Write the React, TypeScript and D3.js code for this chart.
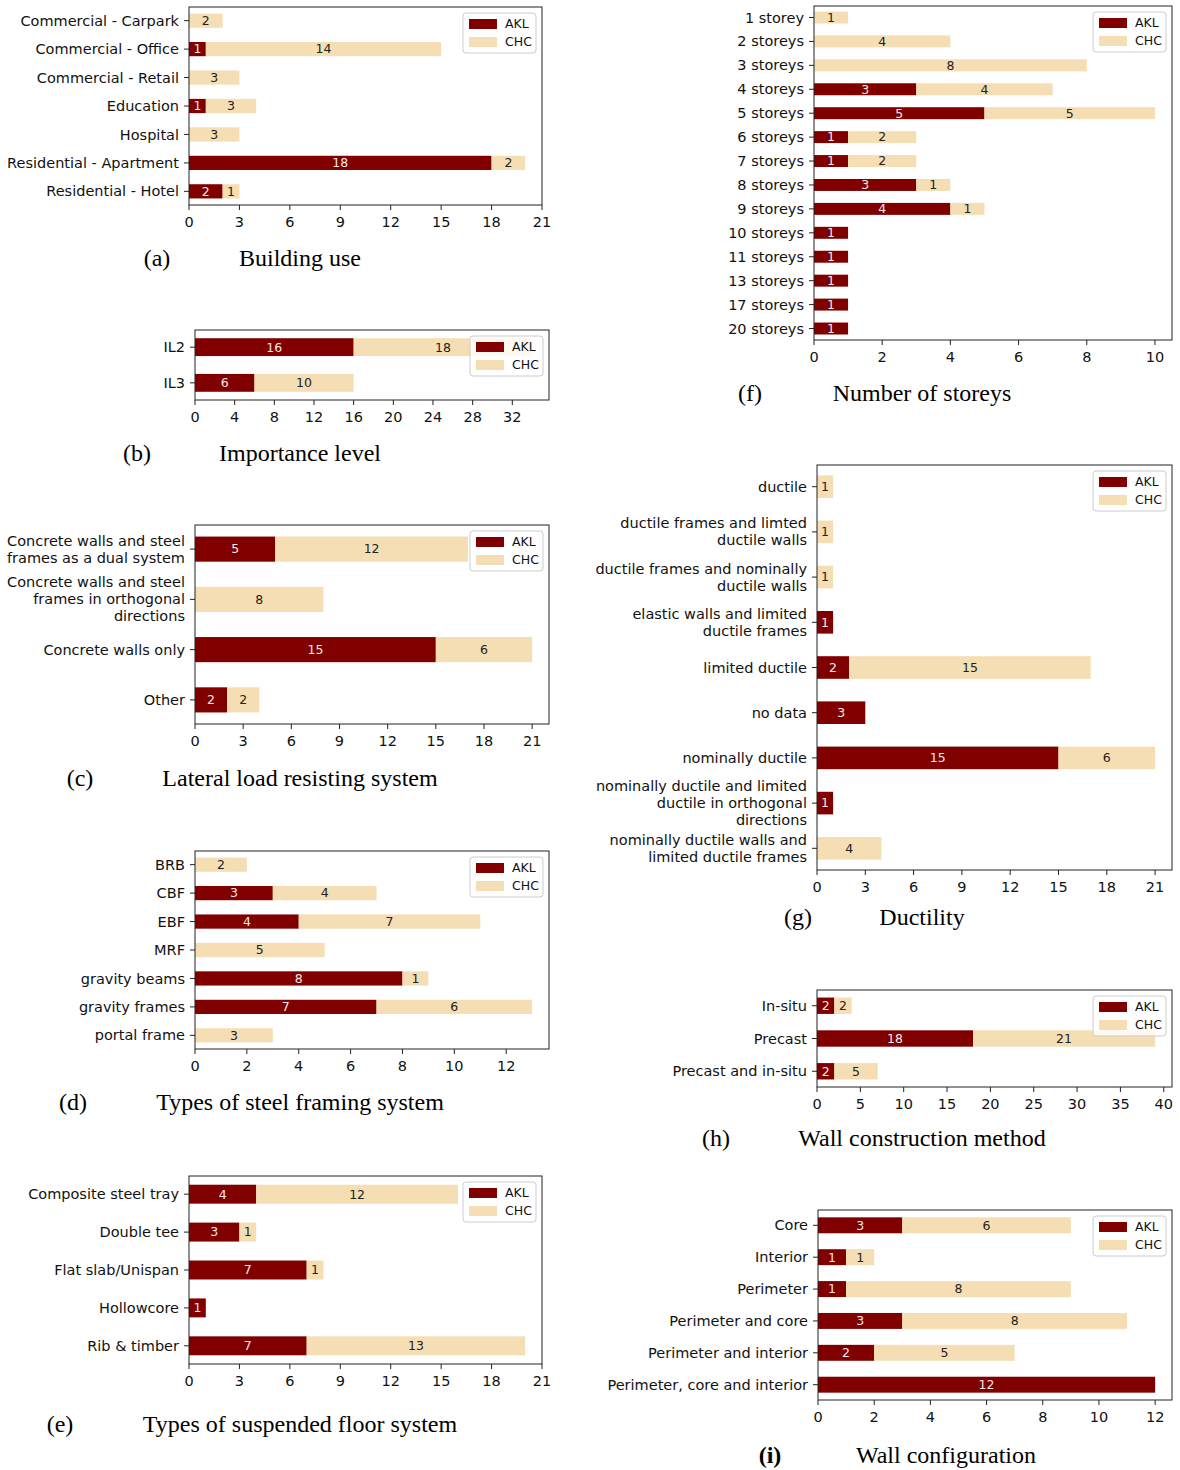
import React from 'react';
import * as d3 from 'd3';

const AKL_COLOR = '#800000';
const CHC_COLOR = '#f5deb3';
const SERIES = ['AKL', 'CHC'];

// (a) Building use
const useCats = ['Commercial - Carpark', 'Commercial - Office', 'Commercial - Retail', 'Education', 'Hospital', 'Residential - Apartment', 'Residential - Hotel'];
const useAkl = [0, 1, 0, 1, 0, 18, 2];
const useChc = [2, 14, 3, 3, 3, 2, 1];
const useTicks = [0, 3, 6, 9, 12, 15, 18, 21];

// (b) Importance level
const ilCats = ['IL2', 'IL3'];
const ilAkl = [16, 6];
const ilChc = [18, 10];
const ilTicks = [0, 4, 8, 12, 16, 20, 24, 28, 32];

// (c) Lateral load resisting system
const llrsCats = ['Concrete walls and steel\nframes as a dual system', 'Concrete walls and steel\nframes in orthogonal\ndirections', 'Concrete walls only', 'Other'];
const llrsAkl = [5, 0, 15, 2];
const llrsChc = [12, 8, 6, 2];
const llrsTicks = [0, 3, 6, 9, 12, 15, 18, 21];

// (d) Types of steel framing system
const steelCats = ['BRB', 'CBF', 'EBF', 'MRF', 'gravity beams', 'gravity frames', 'portal frame'];
const steelAkl = [0, 3, 4, 0, 8, 7, 0];
const steelChc = [2, 4, 7, 5, 1, 6, 3];
const steelTicks = [0, 2, 4, 6, 8, 10, 12];

// (e) Types of suspended floor system
const floorCats = ['Composite steel tray', 'Double tee', 'Flat slab/Unispan', 'Hollowcore', 'Rib & timber'];
const floorAkl = [4, 3, 7, 1, 7];
const floorChc = [12, 1, 1, 0, 13];
const floorTicks = [0, 3, 6, 9, 12, 15, 18, 21];

// (f) Number of storeys
const storeyCats = ['1 storey', '2 storeys', '3 storeys', '4 storeys', '5 storeys', '6 storeys', '7 storeys', '8 storeys', '9 storeys', '10 storeys', '11 storeys', '13 storeys', '17 storeys', '20 storeys'];
const storeyAkl = [0, 0, 0, 3, 5, 1, 1, 3, 4, 1, 1, 1, 1, 1];
const storeyChc = [1, 4, 8, 4, 5, 2, 2, 1, 1, 0, 0, 0, 0, 0];
const storeyTicks = [0, 2, 4, 6, 8, 10];

// (g) Ductility
const ductCats = ['ductile', 'ductile frames and limted\nductile walls', 'ductile frames and nominally\nductile walls', 'elastic walls and limited\nductile frames', 'limited ductile', 'no data', 'nominally ductile', 'nominally ductile and limited\nductile in orthogonal\ndirections', 'nominally ductile walls and\nlimited ductile frames'];
const ductAkl = [0, 0, 0, 1, 2, 3, 15, 1, 0];
const ductChc = [1, 1, 1, 0, 15, 0, 6, 0, 4];
const ductTicks = [0, 3, 6, 9, 12, 15, 18, 21];

// (h) Wall construction method
const wallCats = ['In-situ', 'Precast', 'Precast and in-situ'];
const wallAkl = [2, 18, 2];
const wallChc = [2, 21, 5];
const wallTicks = [0, 5, 10, 15, 20, 25, 30, 35, 40];

// (i) Wall configuration
const confCats = ['Core', 'Interior', 'Perimeter', 'Perimeter and core', 'Perimeter and interior', 'Perimeter, core and interior'];
const confAkl = [3, 1, 1, 3, 2, 12];
const confChc = [6, 1, 8, 8, 5, 0];
const confTicks = [0, 2, 4, 6, 8, 10, 12];

const SANS = '"DejaVu Sans", sans-serif';
const SERIF = '"Liberation Serif", "Times New Roman", serif';

interface PanelProps {
    cats: string[];
    akl: number[];
    chc: number[];
    ticks: number[];
    box: [number, number, number, number];
    letter: string;
    title: string;
    letterX: number;
    titleX: number;
    captionY: number;
    boldLetter?: boolean;
}

const Panel = ({ cats, akl, chc, ticks, box, letter, title, letterX, titleX, captionY, boldLetter }: PanelProps) => {
    const [L, T, R, B] = box;
    const totals = akl.map((v, i) => v + chc[i]);
    const xMax = (d3.max(totals) || 0) * 1.05;
    const x = d3.scaleLinear().domain([0, xMax]).range([L, R]);
    const pad = 0.48;
    const y = d3.scaleLinear().domain([-pad, cats.length - 1 + pad]).range([T, B]);
    const bh = y(0.25) - y(-0.25);

    const lgW = 73, lgH = 40;
    const lgX = R - 6 - lgW, lgY = T + 6;

    return (
        <g>
            {cats.map((c, i) => (
                <g key={c}>
                    {akl[i] > 0 && (
                        <rect x={x(0)} y={y(i) - bh / 2} width={x(akl[i]) - x(0)} height={bh} fill={AKL_COLOR} />
                    )}
                    {chc[i] > 0 && (
                        <rect x={x(akl[i])} y={y(i) - bh / 2} width={x(akl[i] + chc[i]) - x(akl[i])} height={bh} fill={CHC_COLOR} />
                    )}
                    {akl[i] > 0 && (
                        <text x={x(akl[i] / 2)} y={y(i)} dy="0.35em" textAnchor="middle" fontSize={12.5} fill="#f3e8e8" fontFamily={SANS}>{akl[i]}</text>
                    )}
                    {chc[i] > 0 && (
                        <text x={x(akl[i] + chc[i] / 2)} y={y(i)} dy="0.35em" textAnchor="middle" fontSize={12.5} fill="#222" fontFamily={SANS}>{chc[i]}</text>
                    )}
                </g>
            ))}
            <rect x={L} y={T} width={R - L} height={B - T} fill="none" stroke="#222" strokeWidth={1} />
            {cats.map((c, i) => {
                const lines = c.split('\n');
                const lh = 17;
                const y0 = y(i) - ((lines.length - 1) * lh) / 2;
                return (
                    <g key={'t' + c}>
                        <line x1={L - 5} x2={L} y1={y(i)} y2={y(i)} stroke="#222" />
                        <text textAnchor="end" fontSize={14.5} fontFamily={SANS} fill="#111">
                            {lines.map((ln, k) => (
                                <tspan key={k} x={L - 10} y={y0 + k * lh} dy="0.35em">{ln}</tspan>
                            ))}
                        </text>
                    </g>
                );
            })}
            {ticks.map(t => (
                <g key={'x' + t}>
                    <line x1={x(t)} x2={x(t)} y1={B} y2={B + 5} stroke="#222" />
                    <text x={x(t)} y={B + 11} dy="0.76em" textAnchor="middle" fontSize={14.5} fontFamily={SANS} fill="#111">{t}</text>
                </g>
            ))}
            <g>
                <rect x={lgX} y={lgY} width={lgW} height={lgH} rx={3} fill="#fff" fillOpacity={0.8} stroke="#ccc" />
                {SERIES.map((s, k) => (
                    <g key={s}>
                        <rect x={lgX + 6} y={lgY + 6 + k * 18} width={28} height={10} fill={k === 0 ? AKL_COLOR : CHC_COLOR} />
                        <text x={lgX + 42} y={lgY + 11 + k * 18} dy="0.35em" fontSize={12.5} fontFamily={SANS} fill="#111">{s}</text>
                    </g>
                ))}
            </g>
            <text x={letterX} y={captionY} dy="0.35em" textAnchor="middle" fontSize={24} fontFamily={SERIF} fontWeight={boldLetter ? 'bold' : 'normal'}>{letter}</text>
            <text x={titleX} y={captionY} dy="0.35em" textAnchor="middle" fontSize={24} fontFamily={SERIF}>{title}</text>
        </g>
    );
};

const App = () => {
    return (
        <svg width={1180} height={1470} style={{ position: 'absolute', left: 0, top: 0, background: '#fff' }}>
            <rect width={1180} height={1470} fill="#fff" />
            <Panel cats={useCats} akl={useAkl} chc={useChc} ticks={useTicks} box={[189, 7, 542, 205]}
                letter="(a)" title="Building use" letterX={157} titleX={300} captionY={258} />
            <Panel cats={ilCats} akl={ilAkl} chc={ilChc} ticks={ilTicks} box={[195, 330, 549, 400]}
                letter="(b)" title="Importance level" letterX={137} titleX={300} captionY={453} />
            <Panel cats={llrsCats} akl={llrsAkl} chc={llrsChc} ticks={llrsTicks} box={[195, 525, 549, 724]}
                letter="(c)" title="Lateral load resisting system" letterX={80} titleX={300} captionY={778} />
            <Panel cats={steelCats} akl={steelAkl} chc={steelChc} ticks={steelTicks} box={[195, 851, 549, 1049]}
                letter="(d)" title="Types of steel framing system" letterX={73} titleX={300} captionY={1102} />
            <Panel cats={floorCats} akl={floorAkl} chc={floorChc} ticks={floorTicks} box={[189, 1176, 542, 1364]}
                letter="(e)" title="Types of suspended floor system" letterX={60} titleX={300} captionY={1424} />
            <Panel cats={storeyCats} akl={storeyAkl} chc={storeyChc} ticks={storeyTicks} box={[814, 6, 1172, 340]}
                letter="(f)" title="Number of storeys" letterX={750} titleX={922} captionY={393} />
            <Panel cats={ductCats} akl={ductAkl} chc={ductChc} ticks={ductTicks} box={[817, 465, 1172, 870]}
                letter="(g)" title="Ductility" letterX={798} titleX={922} captionY={917} />
            <Panel cats={wallCats} akl={wallAkl} chc={wallChc} ticks={wallTicks} box={[817, 990, 1172, 1087]}
                letter="(h)" title="Wall construction method" letterX={716} titleX={922} captionY={1138} />
            <Panel cats={confCats} akl={confAkl} chc={confChc} ticks={confTicks} box={[818, 1210, 1172, 1400]}
                letter="(i)" title="Wall configuration" letterX={770} titleX={946} captionY={1455} boldLetter />
        </svg>
    );
};

export default App;
